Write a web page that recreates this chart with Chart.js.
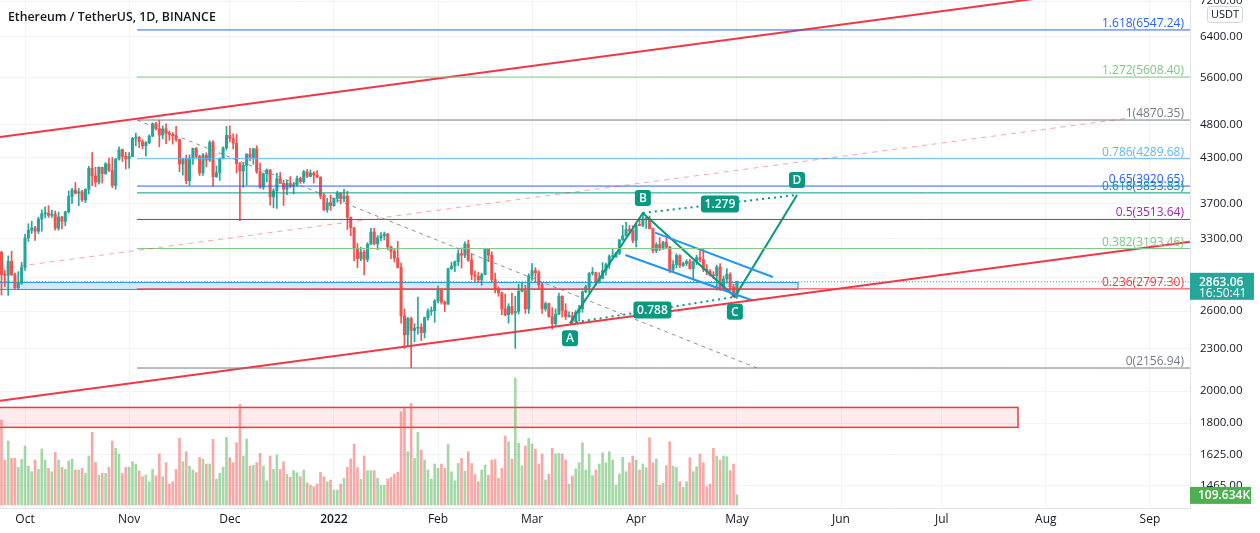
<!DOCTYPE html>
<html>
<head>
<meta charset="utf-8">
<script src="https://cdn.jsdelivr.net/npm/chart.js@4.4.1/dist/chart.umd.min.js"></script>
<style>
  html, body { margin: 0; padding: 0; background: #fff; }
  #wrap { width: 1260px; height: 533px; }
</style>
</head>
<body>
<div id="wrap"><canvas id="chart" width="1260" height="533"></canvas></div>
<script>
// ETH/USDT daily (first candle 2021-09-24, one per day)
const titleText = "Ethereum / TetherUS, 1D, BINANCE";
const firstDate = "2021-09-24";

const opens = [
  3155,2931,2925,3063,2931,2807,2850,3000,3307,3390,
  3418,3380,3518,3580,3587,3562,3576,3415,3543,3492,
  3604,3789,3870,3830,3848,3745,3878,4156,4054,3973,
  4170,4085,4218,4130,3928,4285,4418,4324,4288,4322,
  4587,4605,4537,4475,4521,4620,4812,4733,4636,4731,
  4666,4646,4625,4569,4216,4288,3991,4300,4437,4322,
  4094,4339,4271,4524,4044,4097,4294,4445,4631,4586,
  4512,4220,4119,4197,4356,4308,4432,4112,3907,4083,
  4135,3783,3860,4017,3956,3882,3958,3921,3939,4020,
  3980,4108,4047,4093,4065,4037,3794,3628,3713,3677,
  3765,3829,3762,3794,3538,3420,3193,3090,3157,3082,
  3239,3372,3244,3309,3330,3350,3211,3164,3095,3001,
  2560,2405,2538,2440,2459,2467,2422,2546,2599,2604,
  2689,2792,2678,2660,2988,3016,3059,3140,3125,3240,
  3075,2930,2916,2882,2930,3185,3125,2885,2786,2760,
  2620,2570,2640,2585,2598,2775,2782,2620,2920,2970,
  2950,2835,2620,2665,2555,2495,2575,2730,2605,2555,
  2560,2515,2590,2620,2770,2815,2945,2950,2860,2895,
  2970,3030,3110,3110,3145,3285,3330,3400,3385,3280,
  3450,3445,3520,3520,3410,3170,3235,3190,3260,3210,
  2980,3030,3120,3020,3040,3060,2990,3060,3100,3080,
  2985,2965,2925,2920,3005,2810,2890,2935,2815,2725
];
const highs = [
  3166,2975,3117,3165,2946,2960,3052,3348,3464,3491,
  3435,3540,3626,3662,3676,3622,3612,3600,3549,3610,
  3858,3891,3968,3893,3865,3887,4183,4375,4171,4176,
  4173,4235,4300,4306,4295,4460,4429,4380,4378,4600,
  4665,4611,4567,4536,4640,4825,4838,4868,4778,4809,
  4700,4676,4770,4575,4300,4342,4345,4440,4450,4340,
  4367,4374,4550,4552,4188,4300,4460,4770,4778,4655,
  4650,4239,4237,4359,4443,4440,4476,4228,4095,4148,
  4137,3886,4090,4100,3995,3995,4046,3965,4050,4040,
  4130,4140,4135,4110,4125,4041,3825,3767,3807,3769,
  3855,3837,3878,3855,3543,3425,3248,3208,3180,3256,
  3413,3414,3333,3365,3372,3357,3220,3185,3270,3045,
  2620,2547,2550,2495,2724,2495,2550,2620,2637,2700,
  2822,2800,2689,2995,3054,3066,3179,3200,3265,3283,
  3139,2968,2955,2946,3195,3186,3160,2946,2816,2767,
  2750,2665,2760,2730,2840,2860,2830,2940,3040,3000,
  2970,2850,2680,2670,2630,2620,2760,2735,2665,2595,
  2590,2605,2650,2780,2830,2950,3000,2955,2950,3050,
  3045,3130,3195,3155,3290,3445,3480,3445,3440,3475,
  3530,3580,3545,3555,3415,3255,3310,3270,3305,3215,
  3070,3140,3130,3055,3080,3085,3065,3125,3170,3185,
  3030,2980,2960,3025,3040,2920,2990,2950,2840,2870
];
const lows = [
  2742,2820,2738,2921,2800,2790,2838,2971,3269,3356,
  3280,3355,3380,3532,3537,3537,3392,3390,3405,3441,
  3586,3700,3818,3676,3729,3713,3820,3927,3912,3946,
  3960,4073,4112,3900,3881,4268,4251,4147,4158,4318,
  4475,4450,4430,4328,4505,4612,4712,4460,4576,4507,
  4557,4500,4541,4110,4064,3950,3931,4210,4305,4060,
  4060,4175,4249,3917,4032,3995,4285,4414,4532,4430,
  4093,3500,3905,3934,4263,4213,4088,3890,3877,3974,
  3682,3650,3643,3953,3679,3811,3901,3820,3919,3955,
  3957,4030,4043,3960,4035,3760,3615,3597,3620,3670,
  3718,3697,3721,3400,3330,3067,3000,3069,2928,3057,
  3235,3230,3182,3278,3284,3180,3090,3055,2995,2500,
  2300,2322,2159,2350,2410,2360,2380,2525,2565,2507,
  2672,2660,2596,2658,2982,2961,3020,2995,3100,3062,
  2883,2861,2858,2830,2930,3060,2860,2760,2730,2570,
  2560,2500,2570,2300,2575,2770,2580,2580,2875,2860,
  2800,2580,2600,2550,2450,2470,2570,2550,2530,2550,
  2500,2505,2515,2590,2760,2760,2925,2835,2850,2890,
  2925,2990,3085,3100,3130,3280,3325,3355,3255,3210,
  3440,3430,3410,3405,3150,3150,3170,3185,3200,2950,
  2960,2995,3000,3010,3020,2985,2880,3030,3055,2960,
  2930,2920,2895,2785,2780,2790,2850,2780,2720,2710
];
const closes = [
  2931,2925,3063,2931,2807,2850,3000,3307,3390,3418,
  3380,3518,3580,3587,3562,3576,3415,3543,3492,3604,
  3789,3870,3830,3848,3745,3878,4156,4054,3973,4170,
  4085,4218,4130,3928,4285,4418,4324,4288,4322,4587,
  4605,4537,4475,4521,4620,4812,4733,4636,4731,4666,
  4646,4625,4569,4216,4288,3991,4300,4437,4322,4094,
  4339,4271,4524,4044,4097,4294,4445,4631,4586,4512,
  4220,4119,4197,4356,4308,4432,4112,3907,4083,4135,
  3783,3860,4017,3956,3882,3958,3921,3939,4020,3980,
  4108,4047,4093,4065,4037,3794,3628,3713,3677,3765,
  3829,3762,3794,3538,3420,3193,3090,3157,3082,3239,
  3372,3244,3309,3330,3350,3211,3164,3095,3001,2560,
  2405,2538,2440,2459,2467,2422,2546,2599,2604,2689,
  2792,2678,2660,2988,3016,3059,3140,3125,3240,3075,
  2930,2916,2882,2930,3185,3125,2885,2786,2760,2620,
  2570,2640,2585,2598,2775,2782,2620,2920,2970,2950,
  2835,2620,2665,2555,2495,2575,2730,2605,2555,2560,
  2515,2590,2620,2770,2815,2945,2950,2860,2895,2970,
  3030,3110,3110,3145,3285,3330,3400,3385,3280,3450,
  3445,3520,3520,3410,3170,3235,3190,3260,3210,2980,
  3030,3120,3020,3040,3060,2990,3060,3100,3080,2985,
  2965,2925,2920,3005,2810,2890,2935,2815,2725,2863.06
];
// volume in thousands of ETH
const volumes = [
  918,486,691,504,504,407,493,637,421,360,
  486,385,605,486,396,360,569,486,407,385,
  475,497,378,378,396,342,529,785,461,324,
  342,342,407,691,612,551,342,407,407,468,
  443,367,306,324,252,385,317,551,306,457,
  227,252,385,720,468,576,421,378,349,515,
  497,443,443,709,281,342,407,731,511,457,
  673,1087,529,713,421,428,457,558,421,263,
  529,385,540,385,468,331,299,371,349,306,
  378,241,216,198,227,353,306,252,270,162,
  162,227,288,407,497,659,403,277,529,371,
  371,371,288,212,212,281,299,335,353,1008,
  1044,576,1098,504,785,594,486,378,281,443,
  396,443,396,655,360,263,450,504,367,576,
  450,331,252,378,432,324,486,493,288,396,
  745,684,497,1372,666,425,637,720,659,605,
  443,551,270,335,612,551,558,551,486,227,
  313,389,457,673,378,551,320,378,443,565,
  457,576,486,216,335,515,360,457,529,486,
  378,443,403,727,457,497,216,234,425,684,
  421,407,252,191,252,511,360,414,551,457,
  198,227,612,529,486,529,522,371,443,109.634
];

const monthDates = ["2021-10-01","2021-11-01","2021-12-01","2022-01-01","2022-02-01","2022-03-01",
  "2022-04-01","2022-05-01","2022-06-01","2022-07-01","2022-08-01","2022-09-01"];
const monthLabels = ["Oct","Nov","Dec","2022","Feb","Mar","Apr","May","Jun","Jul","Aug","Sep"];
const priceTicks = [7200, 6400, 5600, 4800, 4300, 3700, 3300, 2900, 2600, 2300, 2000, 1800, 1625, 1465];

// fib retracement (Nov high -> Jan low), extended right
const fibRatios = ["1.618","1.272","1","0.786","0.65","0.618","0.5","0.382","0.236","0"];
const fibPrices = [6547.24, 5608.40, 4870.35, 4289.68, 3920.65, 3833.83, 3513.64, 3193.46, 2797.30, 2156.94];
const fibColors = ["#2962ff","#81c784","#787b86","#64b5f6","#2962ff","#089981","#9c27b0","#81c784","#f23645","#787b86"];
const fibStartDay = 33.35;
const fibEndDay = 218.0;

// drawings: [days since 2021-10-01, price]
const channelTop = [[-7.45, 4608], [346.93, 7764]];
const channelBottom = [[-7.45, 1937], [346.93, 3265]];
const channelMid = [[-7.45, 2989], [329.1, 4905]];
const wedgeUpper = [[187.6, 3365], [222.7, 2909]];
const wedgeLower = [[178.8, 3127], [216.7, 2692]];
const abcdNames = ["A", "B", "C", "D"];
const abcdDays = [162.3, 184.0, 211.4, 229.9];
const abcdPrices = [2499, 3589, 2725, 3808];
const abcdRatios = ["0.788", "1.279"];
const supplyZoneDays = [-20, 230.2];
const supplyZonePrices = [2792, 2857];
const volumeZoneDays = [-20, 295.7];
const volumeZonePrices = [1775, 1895];

const lastPrice = 2863.06;
const countdown = "16:50:41";
const lastVolumeLabel = "109.634K";

const FONT = "'Open Sans', sans-serif";
const UP = "#26a69a", DOWN = "#ef5350";
const DAY_MS = 86400000;
const origin = Date.parse("2021-10-01T00:00:00Z");
function dayOf(s) { return (Date.parse(s + "T00:00:00Z") - origin) / DAY_MS; }

const start = dayOf(firstDate);
const candleX = closes.map((_, i) => start + i);
const isUp = closes.map((c, i) => c >= opens[i]);

function seg(points, color, width, dash) {
  return {
    type: "line",
    data: points.map(([d, p]) => ({ x: d, y: p })),
    borderColor: color,
    borderWidth: width,
    borderDash: dash || [],
    pointRadius: 0,
    fill: false,
    tension: 0,
    yAxisID: "y",
    order: 0,
  };
}

const lineSets = [
  seg(channelMid, "rgba(242,54,69,0.45)", 1, [5, 5]),
  seg([[fibStartDay, fibPrices[2]], [fibEndDay, fibPrices[9]]], "rgba(120,123,134,0.85)", 1, [4, 4]),
  ...fibPrices.map((p, i) => seg([[fibStartDay, p], [346.93, p]], fibColors[i], 1)),
  seg([[-7.45, lastPrice], [346.93, lastPrice]], UP, 1, [1, 2]),
  seg(channelTop, "#f23645", 2),
  seg(channelBottom, "#f23645", 2),
  seg(wedgeUpper, "#2196f3", 2),
  seg(wedgeLower, "#2196f3", 2),
  seg([[abcdDays[0], abcdPrices[0]], [abcdDays[2], abcdPrices[2]]], "#089981", 2, [2, 4]),
  seg([[abcdDays[1], abcdPrices[1]], [abcdDays[3], abcdPrices[3]]], "#089981", 2, [2, 4]),
  seg(abcdDays.map((d, i) => [d, abcdPrices[i]]), "#089981", 2),
];

function box(ctx, cx, cy, w, h, fill, text, font) {
  ctx.fillStyle = fill;
  ctx.beginPath();
  ctx.roundRect(cx - w / 2, cy - h / 2, w, h, 3);
  ctx.fill();
  ctx.fillStyle = "#fff";
  ctx.font = font;
  ctx.textAlign = "center";
  ctx.textBaseline = "middle";
  ctx.fillText(text, cx, cy + 0.5);
}

const overlay = {
  id: "overlay",
  beforeDatasetsDraw(chart) {
    const { ctx, chartArea: a, scales: { x, y } } = chart;
    ctx.save();
    ctx.beginPath();
    ctx.rect(a.left, a.top, a.right - a.left, a.bottom - a.top);
    ctx.clip();
    const zones = [
      [supplyZoneDays, supplyZonePrices, "rgba(33,150,243,0.2)", "#2196f3", 1],
      [volumeZoneDays, volumeZonePrices, "rgba(242,54,69,0.1)", "#f23645", 1.5],
    ];
    zones.forEach(([days, prices, fill, stroke, lw]) => {
      const x1 = x.getPixelForValue(days[0]), x2 = x.getPixelForValue(days[1]);
      const y1 = y.getPixelForValue(prices[1]), y2 = y.getPixelForValue(prices[0]);
      ctx.fillStyle = fill;
      ctx.fillRect(x1, y1, x2 - x1, y2 - y1);
      ctx.strokeStyle = stroke;
      ctx.lineWidth = lw;
      ctx.strokeRect(x1, y1, x2 - x1, y2 - y1);
    });
    ctx.restore();
  },
  afterDraw(chart) {
    const { ctx, chartArea: a, scales: { x, y } } = chart;
    ctx.save();

    // fib labels
    ctx.font = "12px " + FONT;
    ctx.textAlign = "right";
    ctx.textBaseline = "alphabetic";
    fibPrices.forEach((p, i) => {
      ctx.fillStyle = fibColors[i];
      ctx.fillText(fibRatios[i] + "(" + p.toFixed(2) + ")", a.right - 6, y.getPixelForValue(p) - 3);
    });

    // ABCD labels
    const pts = abcdDays.map((d, i) => [x.getPixelForValue(d), y.getPixelForValue(abcdPrices[i])]);
    pts.forEach(([px, py], i) => {
      box(ctx, px, py + (i % 2 === 0 ? 15 : -15), 16, 16, "#089981", abcdNames[i], "600 12px " + FONT);
    });
    box(ctx, (pts[0][0] + pts[2][0]) / 2, (pts[0][1] + pts[2][1]) / 2, 38, 17, "#089981", abcdRatios[0], "600 12px " + FONT);
    box(ctx, (pts[1][0] + pts[3][0]) / 2, (pts[1][1] + pts[3][1]) / 2, 38, 17, "#089981", abcdRatios[1], "600 12px " + FONT);

    // title
    ctx.fillStyle = "#131722";
    ctx.font = "600 12.3px " + FONT;
    ctx.textAlign = "left";
    ctx.textBaseline = "middle";
    ctx.fillText(titleText, 8, 17);

    // currency badge
    ctx.fillStyle = "#fff";
    ctx.strokeStyle = "#d1d4dc";
    ctx.lineWidth = 1;
    ctx.beginPath();
    ctx.roundRect(1207.5, 6.5, 35, 16, 3);
    ctx.fill();
    ctx.stroke();
    ctx.fillStyle = "#131722";
    ctx.font = "11px " + FONT;
    ctx.textAlign = "center";
    ctx.fillText("USDT", 1225, 15);

    // last price / countdown
    const ly = y.getPixelForValue(lastPrice);
    ctx.fillStyle = UP;
    ctx.fillRect(a.right, ly - 9, 64, 27);
    ctx.fillStyle = "#fff";
    ctx.textAlign = "left";
    ctx.font = "600 12px " + FONT;
    ctx.fillText(lastPrice.toFixed(2), a.right + 9, ly + 0.5);
    ctx.font = "12px " + FONT;
    ctx.fillText(countdown, a.right + 9, ly + 12);

    // last volume
    const vScale = chart.scales.vol;
    const vy = vScale.getPixelForValue(volumes[volumes.length - 1]);
    ctx.fillStyle = "#4caf50";
    ctx.fillRect(a.right, vy - 8, 61, 17);
    ctx.fillStyle = "#fff";
    ctx.font = "600 12px " + FONT;
    ctx.fillText(lastVolumeLabel, a.right + 8, vy + 0.5);

    ctx.restore();
  },
};

new Chart(document.getElementById("chart"), {
  type: "bar",
  data: {
    datasets: [
      ...lineSets,
      {
        label: "body",
        data: candleX.map((d, i) => ({ x: d, y: [opens[i], closes[i]] })),
        backgroundColor: isUp.map((u) => (u ? UP : DOWN)),
        barThickness: 2.4,
        minBarLength: 1,
        grouped: false,
        yAxisID: "y",
        order: 2,
      },
      {
        label: "wick",
        data: candleX.map((d, i) => ({ x: d, y: [lows[i], highs[i]] })),
        backgroundColor: isUp.map((u) => (u ? UP : DOWN)),
        barThickness: 1,
        grouped: false,
        yAxisID: "y",
        order: 3,
      },
      {
        label: "volume",
        data: candleX.map((d, i) => ({ x: d, y: volumes[i] })),
        backgroundColor: isUp.map((u) => (u ? "rgba(76,175,80,0.5)" : "rgba(239,83,80,0.5)")),
        barThickness: 2,
        grouped: false,
        yAxisID: "vol",
        order: 5,
      },
    ],
  },
  options: {
    responsive: false,
    animation: false,
    devicePixelRatio: 1,
    layout: { padding: 0 },
    plugins: { legend: { display: false }, tooltip: { enabled: false } },
    scales: {
      x: {
        type: "linear",
        bounds: "data",
        offset: false,
        min: -7.445,
        max: 346.93,
        grid: { color: "#f0f3fa", drawTicks: false, offset: false },
        border: { color: "#e0e3eb" },
        ticks: {
          autoSkip: false,
          maxRotation: 0,
          padding: 4,
          color: "#131722",
          font: (c) => ({ family: FONT, size: 12, weight: c.index === 3 ? "600" : "normal" }),
          callback: (v, i) => monthLabels[i],
        },
        afterBuildTicks: (s) => { s.ticks = monthDates.map((d) => ({ value: dayOf(d) })); },
        afterFit: (s) => { s.height = 25; s.paddingLeft = 0; s.paddingRight = 0; },
      },
      y: {
        type: "logarithmic",
        position: "right",
        bounds: "data",
        min: 1362,
        max: 7224,
        grid: { color: "#f0f3fa", drawTicks: false },
        border: { color: "#e0e3eb" },
        ticks: {
          autoSkip: false,
          padding: 10,
          color: "#131722",
          font: { family: FONT, size: 11.5 },
          callback: (v) => Number(v).toFixed(2),
        },
        afterBuildTicks: (s) => { s.ticks = priceTicks.map((v) => ({ value: v })); },
        afterFit: (s) => { s.width = 70; s.paddingTop = 0; s.paddingBottom = 0; },
      },
      vol: { type: "linear", display: false, min: -32, max: 5454 },
    },
  },
  plugins: [overlay],
});
</script>
</body>
</html>
